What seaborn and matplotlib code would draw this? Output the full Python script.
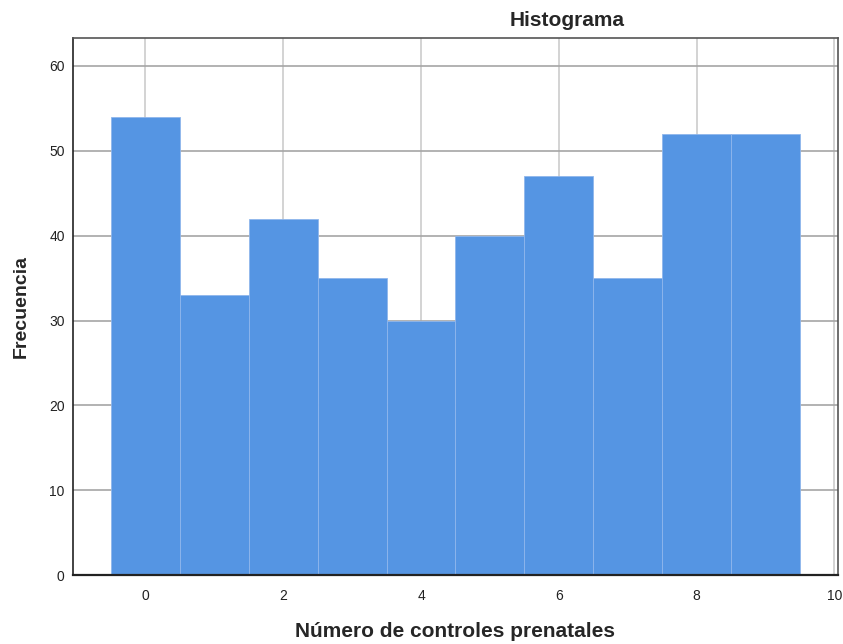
import pandas as pd
import matplotlib
matplotlib.use('Agg')
import matplotlib.pyplot as plt
import seaborn as sns

# controles prenatales (0-9) y su frecuencia
controles = [0, 1, 2, 3, 4, 5, 6, 7, 8, 9]
frecuencia = [54, 33, 42, 35, 30, 40, 47, 35, 52, 52]
x_ticks = [0, 2, 4, 6, 8, 10]
y_ticks = [0, 10, 20, 30, 40, 50, 60]

data = pd.DataFrame({'controles': controles, 'frecuencia': frecuencia})

sns.set_style('white')
plt.rcParams['font.family'] = ['Liberation Sans', 'DejaVu Sans']

fig = plt.figure(figsize=(8.43, 6.44), dpi=100)
ax = fig.add_axes([0.0866, 0.107, 0.9074, 0.834])

# grid first so bars cover it
ax.set_axisbelow(True)
ax.yaxis.grid(True, color='#a6a6a6', linewidth=1.2)
ax.xaxis.grid(True, color='#cccccc', linewidth=1.2)

sns.histplot(data=data, x='controles', weights='frecuencia', discrete=True,
             color='#5595e3', alpha=1, edgecolor='#8fb6ec', linewidth=0.6, ax=ax)

ax.set_xlim(-1.05, 10.05)
ax.set_ylim(0, 63.3)
ax.set_xticks(x_ticks)
ax.set_yticks(y_ticks)
ax.tick_params(axis='both', length=0, labelsize=10, colors='#222222')
ax.tick_params(axis='x', pad=10)
ax.tick_params(axis='y', pad=6)

for s in ax.spines.values():
    s.set_color('#555555')
    s.set_linewidth(1.2)
    s.set_visible(True)
ax.spines['left'].set_color('#222222')
ax.spines['bottom'].set_color('#222222')
ax.spines['bottom'].set_linewidth(1.6)

ax.set_xlabel('Número de controles prenatales', fontsize=15, fontweight='bold', labelpad=14)
ax.set_ylabel('Frecuencia', fontsize=14, fontweight='bold', labelpad=14)
fig.text(0.673, 0.968, 'Histograma', fontsize=15, fontweight='bold', ha='center', va='center')

fig.savefig('out.png', dpi=100)
